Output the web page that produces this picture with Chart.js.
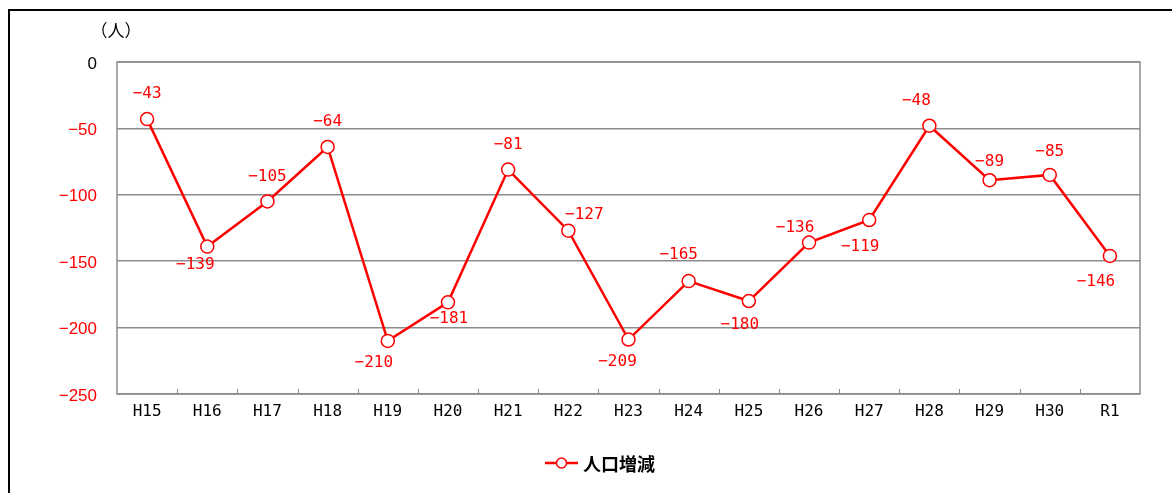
<!DOCTYPE html>
<html><head><meta charset="utf-8">
<script src="https://cdn.jsdelivr.net/npm/chart.js@4/dist/chart.umd.min.js"></script>
<style>html,body{margin:0;padding:0;background:#fff;}#wrap{width:1172px;height:493px;position:relative;}</style>
</head><body><div id="wrap"><canvas id="c" width="1172" height="493"></canvas></div>
<script>
const categories = ['H15','H16','H17','H18','H19','H20','H21','H22','H23','H24','H25','H26','H27','H28','H29','H30','R1'];
const populationChange = [-43,-139,-105,-64,-210,-181,-81,-127,-209,-165,-180,-136,-119,-48,-89,-85,-146];
const yTickValues = [0,-50,-100,-150,-200,-250];
const seriesName = '人口増減';
const unitLabel = '（人）';

// label offsets (dx, dy) relative to each point — placement only
const labelOffsets = [[0,-25],[-12,18],[0,-25],[0,-25],[-14,22],[1,16],[0,-25],[16,-16],[-11,22],[-10,-26],[-9,24],[-14,-15],[-9,27],[-13,-25],[0,-18],[0,-23],[-14,26]];

const RED = '#ff0000';
const GRID = '#8c8c8c';
const fmt = v => (v < 0 ? '\u2212' : '') + Math.abs(v);
const MONO = "'DejaVu Sans Mono', monospace";

const decor = {
  id: 'decor',
  beforeDraw(chart) {
    const c = chart.ctx;
    c.save();
    c.fillStyle = '#fff';
    c.fillRect(0, 0, chart.width, chart.height);
    c.strokeStyle = '#000';
    c.lineWidth = 2;
    c.beginPath();
    c.moveTo(9, chart.height); c.lineTo(9, 10); c.lineTo(chart.width, 10);
    c.stroke();
    c.restore();
  },
  beforeDatasetsDraw(chart) {
    const c = chart.ctx, a = chart.chartArea, xs = chart.scales.x;
    c.save();
    c.strokeStyle = GRID;
    c.lineWidth = 1.5;
    c.strokeRect(a.left, a.top, a.right - a.left, a.bottom - a.top);
    c.beginPath();
    const n = categories.length;
    for (let i = 0; i < n - 1; i++) {
      const x = Math.round((xs.getPixelForValue(i) + xs.getPixelForValue(i + 1)) / 2) + 0.5;
      c.moveTo(x, a.bottom); c.lineTo(x, a.bottom - 5);
    }
    c.lineWidth = 1;
    c.stroke();
    c.restore();
  },
  afterDatasetsDraw(chart) {
    const c = chart.ctx, meta = chart.getDatasetMeta(0);
    c.save();
    c.font = '16px ' + MONO;
    c.fillStyle = RED;
    c.textAlign = 'center';
    c.textBaseline = 'middle';
    meta.data.forEach((pt, i) => {
      const o = labelOffsets[i] || [0, -25];
      c.fillText(fmt(populationChange[i]), pt.x + o[0], pt.y + o[1]);
    });
    // unit label
    c.fillStyle = '#000';
    c.font = "17px 'Noto Sans CJK JP', sans-serif";
    c.fillText(unitLabel, 116, 31);
    // legend
    const ly = 463;
    c.font = "bold 18px 'Noto Sans CJK JP', sans-serif";
    const tw = c.measureText(seriesName).width;
    const lx = 545;
    c.strokeStyle = RED; c.lineWidth = 2.5;
    c.beginPath(); c.moveTo(lx, ly); c.lineTo(lx + 33, ly); c.stroke();
    c.fillStyle = '#fff'; c.lineWidth = 1.5;
    c.beginPath(); c.arc(lx + 16.5, ly, 5, 0, Math.PI * 2); c.fill(); c.stroke();
    c.fillStyle = '#000'; c.textAlign = 'left';
    c.fillText(seriesName, lx + 38, ly + 1);
    c.restore();
  }
};

new Chart(document.getElementById('c'), {
  type: 'line',
  data: {
    labels: categories,
    datasets: [{
      label: seriesName,
      data: populationChange,
      borderColor: RED,
      borderWidth: 2.5,
      backgroundColor: '#fff',
      pointBackgroundColor: '#fff',
      pointBorderColor: RED,
      pointBorderWidth: 1.5,
      pointRadius: 6.5,
      tension: 0,
      fill: false
    }]
  },
  options: {
    responsive: false,
    devicePixelRatio: 1,
    animation: false,
    layout: { padding: { top: 62, right: 32, left: 0, bottom: 0 } },
    plugins: { legend: { display: false }, title: { display: false }, tooltip: { enabled: false } },
    scales: {
      x: {
        type: 'category',
        offset: true,
        grid: { display: false, drawTicks: false },
        border: { display: false },
        ticks: { color: '#000', font: { family: MONO, size: 16 }, padding: 8, maxRotation: 0, autoSkip: false },
        afterFit(s) { s.height = 99; }
      },
      y: {
        min: Math.min(...yTickValues),
        max: Math.max(...yTickValues),
        afterBuildTicks(s) { s.ticks = yTickValues.map(v => ({ value: v })); },
        grid: { color: GRID, lineWidth: 1.5, drawTicks: false },
        border: { display: false },
        ticks: {
          padding: 20,
          labelOffset: 2,
          font: { family: "'Liberation Sans', Arial, sans-serif", size: 17 },
          color: ctx => (ctx.tick && ctx.tick.value === 0) ? '#000' : RED,
          callback: v => fmt(v)
        },
        afterFit(s) { s.width = 117; }
      }
    }
  },
  plugins: [decor]
});
</script></body></html>
